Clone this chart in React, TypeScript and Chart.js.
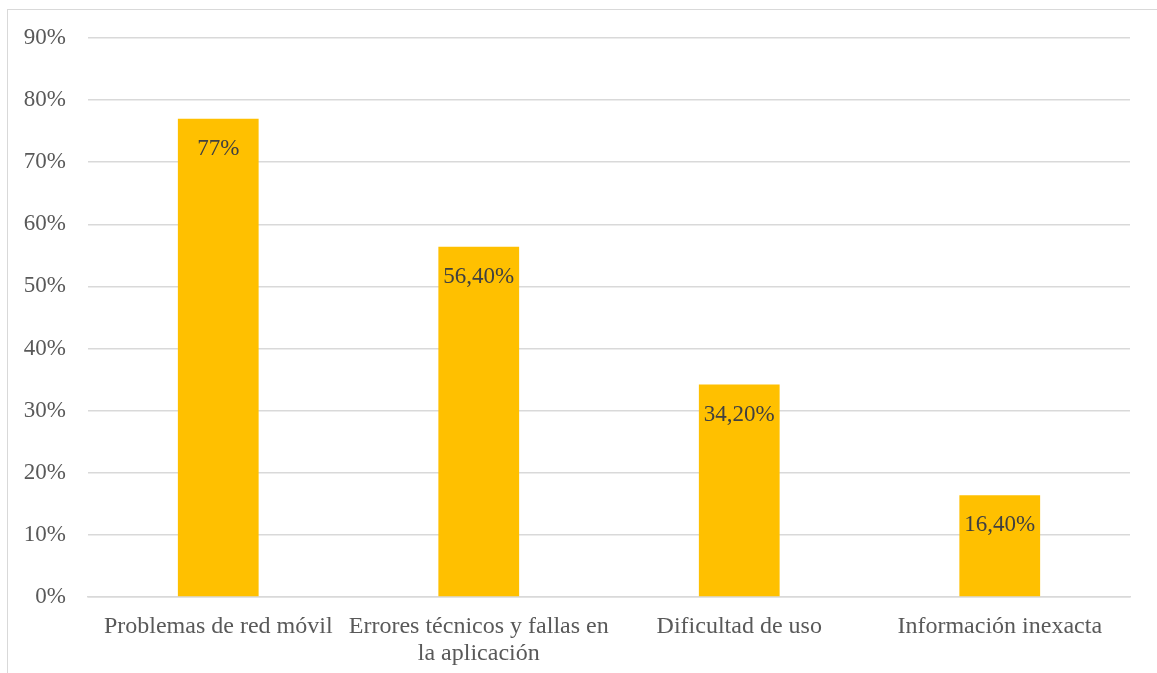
import React, { useEffect, useRef } from "react";
import { Chart, registerables } from "chart.js";

Chart.register(...registerables);

const categories: (string | string[])[] = [
  "Problemas de red móvil",
  ["Errores técnicos y fallas en", "la aplicación"],
  "Dificultad de uso",
  "Información inexacta",
];
const values = [77, 56.4, 34.2, 16.4];
const valueLabels = ["77%", "56,40%", "34,20%", "16,40%"];
const tickLabels = ["0%", "10%", "20%", "30%", "40%", "50%", "60%", "70%", "80%", "90%"];

const FONT = "'Liberation Serif', 'Times New Roman', serif";

const labelPlugin = {
  id: "barLabels",
  afterDatasetsDraw(chart: any) {
    const ctx = chart.ctx;
    const meta = chart.getDatasetMeta(0);
    ctx.save();
    ctx.font = `23px ${FONT}`;
    ctx.fillStyle = "#404040";
    ctx.textAlign = "center";
    ctx.textBaseline = "middle";
    meta.data.forEach((bar: any, i: number) => {
      ctx.fillText(valueLabels[i], bar.x, bar.y + 30);
    });
    ctx.restore();
  },
};

export default function App() {
  const ref = useRef<HTMLCanvasElement>(null);
  useEffect(() => {
    if (!ref.current) return;
    const chart = new Chart(ref.current, {
      type: "bar",
      data: {
        labels: categories,
        datasets: [
          {
            data: values,
            backgroundColor: "#FFC000",
            borderWidth: 0,
            barPercentage: 0.62,
            categoryPercentage: 0.5,
          },
        ],
      },
      options: {
        responsive: false,
        animation: false,
        layout: { padding: { left: 0, right: 27, top: 38, bottom: 9 } },
        plugins: { legend: { display: false }, tooltip: { enabled: false } },
        scales: {
          x: {
            grid: { display: false, drawTicks: false },
            border: { display: true, color: "#d9d9d9", width: 1.5 },
            ticks: {
              color: "#595959",
              font: { family: FONT, size: 24, lineHeight: 1.125 },
              padding: 16,
              maxRotation: 0,
              minRotation: 0,
              autoSkip: false,
            },
          },
          y: {
            min: 0,
            max: 90,
            afterFit: (scale: any) => {
              scale.width = 88;
            },
            grid: { color: "#d9d9d9", lineWidth: 1.5, drawTicks: false },
            border: { display: false },
            ticks: {
              stepSize: 10,
              color: "#595959",
              font: { family: FONT, size: 23 },
              padding: 22,
              callback: (v: any) => tickLabels[Math.round(Number(v) / 10)] ?? "",
            },
          },
        },
      },
      plugins: [labelPlugin],
    });
    return () => chart.destroy();
  }, []);
  return (
    <div
      style={{
        position: "fixed",
        left: 0,
        top: 0,
        width: 1157,
        height: 673,
        background: "#fff",
        overflow: "hidden",
      }}
    >
      <div
        style={{
          position: "absolute",
          left: 7,
          top: 9,
          width: 1160,
          height: 700,
          border: "1.5px solid #d9d9d9",
          boxSizing: "border-box",
        }}
      />
      <canvas ref={ref} width={1157} height={692} style={{ position: "absolute", left: 0, top: 0 }} />
    </div>
  );
}
